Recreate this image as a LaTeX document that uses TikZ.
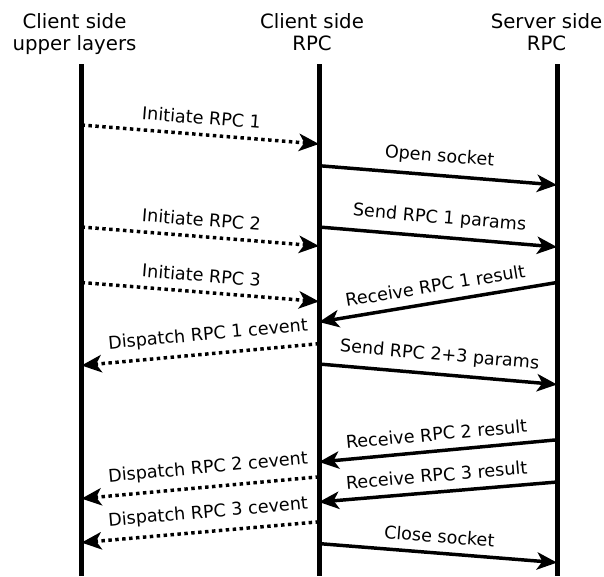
\documentclass[tikz,border=0pt]{standalone}
\usepackage{fontspec}
\setmainfont{DejaVu Sans}
\usetikzlibrary{arrows.meta}

\tikzset{every picture/.style={line width=0.75pt}}
\tikzset{
	header/.style={anchor=north, inner sep=0pt, align=center, font=\fontsize{14.8}{16.6}\selectfont},
	lifeline/.style={line width=3.75pt},
	call/.style={line width=2.6pt, -{Stealth[length=15pt,width=13pt,inset=4pt]}},
	event/.style={call, dash pattern=on 2.6pt off 2.6pt},
	msglabel/.style={font=\fontsize{13.2}{15}\selectfont, sloped, above=3pt}
}

\begin{document}
\begin{tikzpicture}[x=0.75pt,y=0.75pt]
	\useasboundingbox (0,0) rectangle (604,-576);

	% Headers
	\node[header] (ulh) at (74.5,-13.3) {Client side\\upper layers};
	\node[header] (crh) at (312,-13.3) {Client side\\RPC};
	\node[header] (srh) at (546.5,-13.3) {Server side\\RPC};

	% Lifelines
	\coordinate (ul) at (81.5,-64);
	\coordinate (cr) at (319,-64);
	\coordinate (sr) at (557,-64);
	\coordinate (ulend) at (81.5,-576);
	\coordinate (crend) at (319,-576);
	\coordinate (srend) at (557,-576);
	\draw[lifeline] (ul) -- (ulend);
	\draw[lifeline] (cr) -- (crend);
	\draw[lifeline] (sr) -- (srend);

	% Message end points
	\coordinate (ir1a) at (81.5,-125);   \coordinate (ir1b) at (319,-144);
	\coordinate (osa) at (319,-165.7);   \coordinate (osb) at (557,-185);
	\coordinate (ir2a) at (81.5,-227);   \coordinate (ir2b) at (319,-246);
	\coordinate (sp1a) at (319,-227);    \coordinate (sp1b) at (557,-247);
	\coordinate (ir3a) at (81.5,-282.5); \coordinate (ir3b) at (319,-301.5);
	\coordinate (rr1a) at (557,-282.5);  \coordinate (rr1b) at (319,-322);
	\coordinate (dc1a) at (319,-343.7);  \coordinate (dc1b) at (81.5,-365.5);
	\coordinate (sp23a) at (319,-364);   \coordinate (sp23b) at (557,-384.5);
	\coordinate (rr2a) at (557,-439.8);  \coordinate (rr2b) at (319,-462);
	\coordinate (dc2a) at (319,-476.8);  \coordinate (dc2b) at (81.5,-498.6);
	\coordinate (rr3a) at (557,-482);    \coordinate (rr3b) at (319,-502);
	\coordinate (dc3a) at (319,-521.8);  \coordinate (dc3b) at (81.5,-542.6);
	\coordinate (csa) at (319,-543.6);   \coordinate (csb) at (557,-562.6);

	% Messages
	\draw[event] (ir1a) -- node[msglabel] {Initiate RPC 1} (ir1b);
	\draw[call] (osa) -- node[msglabel] {Open socket} (osb);
	\draw[event] (ir2a) -- node[msglabel] {Initiate RPC 2} (ir2b);
	\draw[call] (sp1a) -- node[msglabel] {Send RPC 1 params} (sp1b);
	\draw[event] (ir3a) -- node[msglabel] {Initiate RPC 3} (ir3b);
	\draw[call] (rr1a) -- node[msglabel] {Receive RPC 1 result} (rr1b);
	\draw[event] (dc1a) -- node[msglabel, pos=.46] {Dispatch RPC 1 cevent} (dc1b);
	\draw[call] (sp23a) -- node[msglabel] {Send RPC 2+3 params} (sp23b);
	\draw[call] (rr2a) -- node[msglabel] {Receive RPC 2 result} (rr2b);
	\draw[event] (dc2a) -- node[msglabel, pos=.46] {Dispatch RPC 2 cevent} (dc2b);
	\draw[call] (rr3a) -- node[msglabel] {Receive RPC 3 result} (rr3b);
	\draw[event] (dc3a) -- node[msglabel, pos=.46] {Dispatch RPC 3 cevent} (dc3b);
	\draw[call] (csa) -- node[msglabel] {Close socket} (csb);

\end{tikzpicture}
\end{document}
